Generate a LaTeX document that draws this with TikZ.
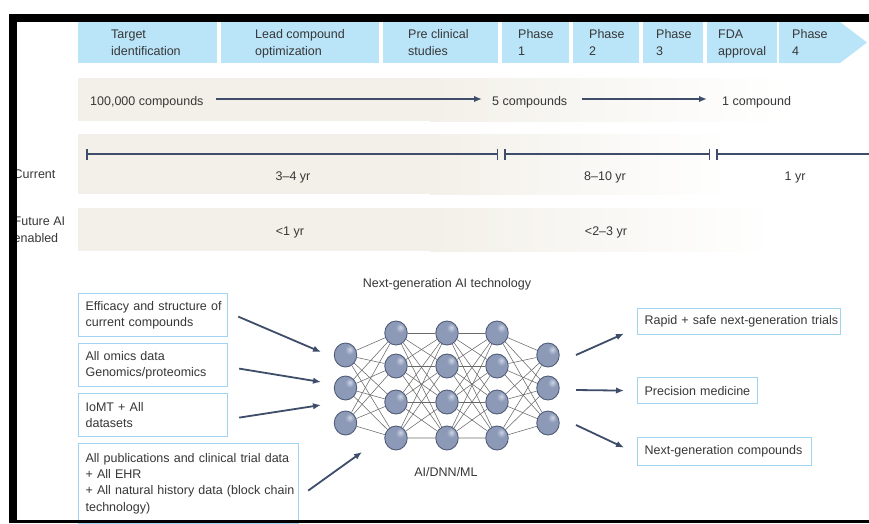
\documentclass[tikz,border=0pt]{standalone}
\usepackage{fontspec}
\setmainfont{Liberation Sans}
\usetikzlibrary{arrows.meta,calc,shapes.geometric}

\definecolor{hdrblue}{RGB}{186,228,248}
\definecolor{boxblue}{RGB}{160,212,240}
\definecolor{beige}{RGB}{243,240,233}
\definecolor{navy}{RGB}{62,77,106}
\definecolor{txtgray}{RGB}{55,55,55}
\definecolor{edgegray}{RGB}{105,105,105}
\definecolor{orbhl}{RGB}{205,212,228}
\definecolor{orbmid}{RGB}{140,154,184}
\definecolor{orbdk}{RGB}{104,118,150}
\definecolor{orbrim}{RGB}{80,92,120}

\pgfdeclareradialshading{orb}{\pgfpoint{10bp}{12bp}}{color(0bp)=(orbhl); color(10bp)=(orbmid); color(36bp)=(orbmid); color(50bp)=(orbdk); color(100bp)=(orbdk)}

\pgfdeclarelayer{bg}
\pgfdeclarelayer{edges}
\pgfsetlayers{bg,edges,main}

\begin{document}
\begin{tikzpicture}[x=1pt,y=-1pt, font=\fontsize{12.5}{16.3}\selectfont, text=txtgray,
  hdr/.style={fill=hdrblue, inner sep=0, anchor=north west, minimum height=41pt},
  lbl/.style={inner sep=0, anchor=base west, align=left},
  clbl/.style={inner sep=0, anchor=base, align=center},
  ibox/.style={draw=boxblue, line width=1.2pt, inner xsep=7pt, inner ysep=0pt, anchor=north west, align=left},
  arr/.style={draw=navy, line width=1.8pt, -{Latex[length=8pt,width=6.5pt]}},
  tline/.style={draw=navy, line width=2pt, {Bar[width=11pt,line width=1.5pt]}-{Bar[width=11pt,line width=1.5pt]}},
  tlineopen/.style={draw=navy, line width=2pt, {Bar[width=11pt,line width=1.5pt]}-},
  neuron/.style={ellipse, minimum width=22.5pt, minimum height=24pt, inner sep=0, shading=orb, draw=orbrim, line width=0.9pt},
  syn/.style={draw=edgegray, line width=0.55pt},
  synlight/.style={draw=gray!40, line width=1.8pt}]

\useasboundingbox (0,0) rectangle (869,523);
\begin{pgfonlayer}{bg}
\fill[white] (0,0) rectangle (869,523);
\end{pgfonlayer}

% header chevron row
\node[hdr, minimum width=139pt] (h1) at (78,22) {};
\node[hdr, minimum width=158pt] (h2) at (221,22) {};
\node[hdr, minimum width=115pt] (h3) at (383,22) {};
\node[hdr, minimum width=67pt] (h4) at (502,22) {};
\node[hdr, minimum width=66pt] (h5) at (573,22) {};
\node[hdr, minimum width=60pt] (h6) at (643,22) {};
\node[hdr, minimum width=70pt] (h7) at (707,22) {};
\fill[hdrblue] (779,22) -- (840,22) -- (867,42.5) -- (840,63) -- (779,63) -- cycle;

\node[lbl] (t1) at (111,55) {Target\\identification};
\node[lbl] (t2) at (255,55) {Lead compound\\optimization};
\node[lbl] (t3) at (408,55) {Pre clinical\\studies};
\node[lbl] (t4) at (518,55) {Phase\\1};
\node[lbl] (t5) at (589,55) {Phase\\2};
\node[lbl] (t6) at (656,55) {Phase\\3};
\node[lbl] (t7) at (718,55) {FDA\\approval};
\node[lbl] (t8) at (792,55) {Phase\\4};

% bands
\fill[beige] (78,78) rectangle (430.5,121);
\shade[left color=beige, right color=white] (430,78) rectangle (780,121);
\fill[beige] (78,134) rectangle (430.5,194);
\shade[left color=beige, right color=white] (430,134) rectangle (730,194);
\fill[beige] (78,208) rectangle (430.5,251);
\shade[left color=beige, right color=white] (430,208) rectangle (775,251);

% compounds row
\node[lbl] (c1) at (90,105) {100,000 compounds};
\node[lbl] (c2) at (492,105) {5 compounds};
\node[lbl] (c3) at (722,105) {1 compound};
\draw[arr] ($(c1.base east)+(12,-6)$) -- ($(c2.base west)+(-10,-6)$);
\draw[arr] ($(c2.base east)+(15,-6)$) -- ($(c3.base west)+(-15,-6)$);

% timeline
\coordinate (s0) at (86,154);
\coordinate (s1) at (498,154);
\coordinate (s2) at (504,154);
\coordinate (s3) at (710,154);
\coordinate (s4) at (716,154);
\coordinate (s5) at (885,154);
\draw[tline] (s0) -- (s1);
\draw[tline] (s2) -- (s3);
\draw[tlineopen] (s4) -- (s5);

\node[lbl] (cur) at (13.5,178) {Current};
\node[clbl] (y1) at (293,180) {3–4 yr};
\node[clbl] (y2) at (605,180) {8–10 yr};
\node[clbl] (y3) at (795,180) {1 yr};

\node[lbl] (fut) at (13.5,242) {Future AI\\enabled};
\node[clbl] (f1) at (290,235) {<1 yr};
\node[clbl] (f2) at (606,235) {<2–3 yr};

% lower section
\node[clbl] (ngt) at (447,287) {Next-generation AI technology};

\node[ibox, minimum width=149pt, minimum height=43pt, text width=135pt] (bA) at (78,293) {\mbox{Efficacy and structure of}\\\mbox{current compounds}};
\node[ibox, minimum width=149pt, minimum height=43pt, text width=135pt] (bB) at (78,343) {\mbox{All omics data}\\\mbox{Genomics/proteomics}};
\node[ibox, minimum width=149pt, minimum height=43pt, text width=135pt] (bC) at (78,393) {\mbox{IoMT + All}\\\mbox{datasets}};
\node[ibox, minimum width=220pt, minimum height=80pt, text width=206pt] (bD) at (78,443) {\mbox{All publications and clinical trial data}\\\mbox{+ All EHR}\\\mbox{+ All natural history data (block chain}\\\mbox{technology)}};

\node[ibox, minimum width=203pt, minimum height=26pt, text width=189pt] (r1) at (637,308) {\mbox{Rapid + safe next-generation trials}};
\node[ibox, minimum width=120pt, minimum height=26pt, text width=106pt] (r2) at (637,377) {\mbox{Precision medicine}};
\node[ibox, minimum width=174pt, minimum height=28pt, text width=160pt] (r3) at (637,437) {\mbox{Next-generation compounds}};

% network
\foreach \yy [count=\i] in {355,388,423} \node[neuron] (a\i) at (345.5,\yy) {};
\foreach \yy [count=\i] in {333,366,402,438} {
  \node[neuron] (b\i) at (396,\yy) {};
  \node[neuron] (c\i) at (447,\yy) {};
  \node[neuron] (d\i) at (497,\yy) {};
}
\foreach \yy [count=\i] in {355,388,423} \node[neuron] (e\i) at (548,\yy) {};

\begin{pgfonlayer}{edges}
\foreach \i in {1,2,3} \foreach \j in {1,...,4} \draw[syn] (a\i) -- (b\j);
\foreach \i in {1,...,4} \foreach \j in {1,...,4} {\draw[syn] (b\i) -- (c\j); \draw[syn] (c\i) -- (d\j);}
\foreach \i in {1,...,4} \foreach \j in {1,2,3} \draw[syn] (d\i) -- (e\j);
\draw[synlight] (b4) -- (c4) -- (d4);
\end{pgfonlayer}

\node[clbl] (ail) at (446,476) {AI/DNN/ML};

% arrows in and out
\draw[arr] ($(bA.east)+(10,1.5)$) -- ($(a1)+(-24.5,-3)$);
\draw[arr] ($(bB.east)+(11,3.5)$) -- ($(a2)+(-24.5,-6)$);
\draw[arr] ($(bC.east)+(11,2.5)$) -- ($(a3)+(-24.5,-18)$);
\draw[arr] ($(bD.east)+(9,7)$) -- ($(b4)+(-34,14)$);
\draw[arr] ($(e1)+(28,0)$) -- ($(r1.west)+(-13,12)$);
\draw[arr] ($(e2)+(28,2)$) -- ($(r2.west)+(-13,0)$);
\draw[arr] ($(e3)+(28,2)$) -- ($(r3.west)+(-13,-4)$);

% frame
\fill[black] (9,14) rectangle (869,22);
\fill[black] (9,14) rectangle (17,523);
\fill[black] (9,520) rectangle (869,523);
\end{tikzpicture}
\end{document}
